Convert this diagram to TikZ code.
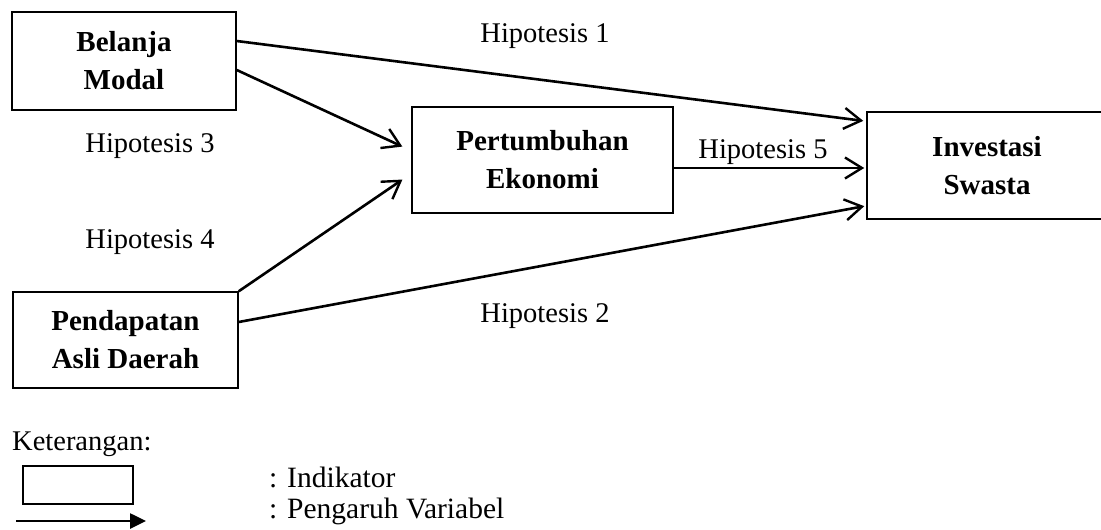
\documentclass[tikz,border=0pt]{standalone}
\usepackage{fontspec}
\setmainfont{Liberation Serif}
\usetikzlibrary{arrows.meta,calc}
\begin{document}
\begin{tikzpicture}[x=1pt,y=-1pt,
  box/.style={draw,line width=1.5pt,inner sep=0pt,align=center,
    font=\fontsize{29}{38}\selectfont\bfseries},
  lbl/.style={inner sep=0pt,anchor=base,font=\fontsize{28.5}{34}\selectfont},
  lgd/.style={inner sep=0pt,anchor=base west,font=\fontsize{29.5}{34}\selectfont},
  arr/.style={line width=2.6pt,-{Straight Barb[length=17pt,width=21pt,line width=2.4pt]},shorten >=1pt}]
\useasboundingbox (0,0) rectangle (1101,530);
% boxes
\node[box,minimum width=224pt,minimum height=98pt] (bm) at (124,61) {Belanja\\Modal};
\node[box,minimum width=261pt,minimum height=106pt] (pe) at (542.5,160) {Pertumbuhan\\Ekonomi};
\node[box,minimum width=240pt,minimum height=107pt] (inv) at (987,165.5) {Investasi\\Swasta};
\node[box,minimum width=225pt,minimum height=96pt] (pad) at (125.5,340) {Pendapatan\\Asli Daerah};
% connectors
\draw[arr] ($(bm.east)+(0,-20)$) -- ($(inv.west)+(-2,-44.5)$);
\draw[arr] ($(bm.east)+(0,9)$) -- ($(pe.west)+(-8,-13)$);
\draw[arr] (pad.north east) -- ($(pe.west)+(-8,19)$);
\draw[arr] ($(pe.east)+(0,8)$) -- ($(inv.west)+(-1,2.5)$);
\draw[arr] ($(pad.east)+(0,-18)$) -- ($(inv.west)+(-1,40.5)$);
% labels
\node[lbl] (h1) at (545,42) {Hipotesis 1};
\node[lbl] (h2) at (545,322) {Hipotesis 2};
\node[lbl] (h3) at (150,152) {Hipotesis 3};
\node[lbl] (h4) at (150,248) {Hipotesis 4};
\node[lbl] (h5) at (763,158) {Hipotesis 5};
% legend
\node[inner sep=0pt,anchor=base west,font=\fontsize{28.5}{34}\selectfont] (ket) at (12,450) {Keterangan:};
\node[draw,line width=1.5pt,minimum width=110pt,minimum height=38pt,inner sep=0pt] (lbox) at (78,485) {};
\coordinate (la) at (16,521);
\coordinate (lb) at (146,521);
\draw[line width=2.6pt,-{Triangle[length=16pt,width=15pt]}] (la) -- (lb);
\node[lgd] (ind) at (269,487) {: Indikator};
\node[lgd] (pv) at (269,518) {: Pengaruh Variabel};
\end{tikzpicture}
\end{document}
